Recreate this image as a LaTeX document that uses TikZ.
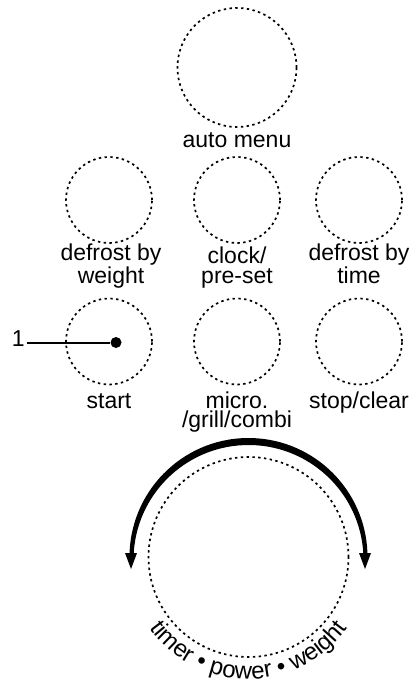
\documentclass[tikz,border=0pt]{standalone}
\usepackage{fontspec}
\setmainfont{Liberation Sans}
\usetikzlibrary{positioning,decorations.text}

\begin{document}
\begin{tikzpicture}[x=0.5pt, y=0.5pt,
    every node/.style={align=center, font=\fontsize{11.5}{9.75}\selectfont},
    key/.style={circle, draw, line width=0.85pt, dash pattern=on 1.2pt off 1.7pt, minimum size=43pt, inner sep=0pt},
    lbl/.style={anchor=base, inner sep=0pt}]
    \useasboundingbox (0,0) rectangle (419,-683);
    % buttons
    \node[key, minimum size=59.5pt] (auto) at (237,-67.5) {};
    \node[lbl] (autot) at (237,-148) {auto menu};
    \node[key] (dbw) at (109,-200) {};
    \node[key] (clk) at (237,-200) {};
    \node[key] (dbt) at (359,-200) {};
    \node[lbl] (dbwt) at (111,-283.5) {defrost by\\weight};
    \node[lbl] (clkt) at (237,-283.5) {clock/\\pre-set};
    \node[lbl] (dbtt) at (359,-283.5) {defrost by\\time};
    \node[key] (start) at (109,-341.5) {};
    \node[key] (mode) at (237,-341.5) {};
    \node[key] (stop) at (359,-341.5) {};
    \node[lbl] (startt) at (109,-408) {start};
    \node[lbl] (modet) at (237,-427.5) {micro.\\/grill/combi};
    \node[lbl] (stopt) at (359,-408) {stop/clear};
    % callout 1
    \node[circle, fill, inner sep=0pt, minimum size=5.5pt] (dot) at (116,-342.5) {};
    \node[anchor=east, inner sep=1pt] (num) at (27,-339) {1};
    \draw[line width=1pt] (num.east |- dot) -- (dot);
    % dial
    \node[key, minimum size=100pt] (dial) at (248.5,-557) {};
    \coordinate (ctr) at (248.5,-557);
    \coordinate (ctrin) at (248.5,-560);
    \fill ([shift={(178:119)}]ctr) arc[start angle=178, end angle=2, radius=119]
        -- ([shift={(2:115)}]ctrin) arc[start angle=2, end angle=178, radius=115] -- cycle;
    \fill (125,-553) -- (137,-553) -- (131,-569) -- cycle;
    \fill (359,-553) -- (371,-553) -- (365,-569) -- cycle;
    \path[decorate, decoration={text along path, text align=center,
        text={|\fontsize{12}{12}\selectfont|timer • power • weight}}]
        ([shift={(212:122)}]ctr) arc[start angle=212, end angle=328, radius=122];
\end{tikzpicture}
\end{document}
